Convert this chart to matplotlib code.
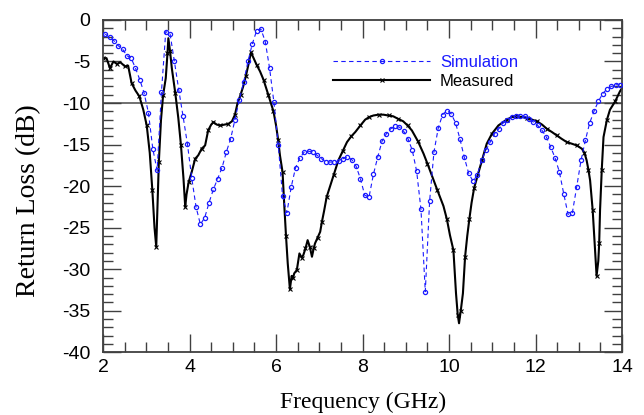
import matplotlib
matplotlib.use('Agg')
import matplotlib.pyplot as plt
import numpy as np

plt.rcParams['axes.unicode_minus'] = False

# simulated return loss, one sample every 0.1 GHz from 2.05 GHz
sim_freq = np.round(np.arange(2.05, 14.0, 0.1), 2)
sim_db = [
    -1.7, -2.1, -2.5, -3.1, -3.5, -4.3, -4.6, -5.8, -7.2, -8.8,
    -11.2, -15.5, -18.1, -8.7, -1.4, -1.7, -5.0, -8.4, -11.6, -14.9,
    -19.0, -22.5, -24.6, -23.8, -22.0, -20.4, -19.1, -17.8, -15.9, -14.3,
    -12.0, -9.6, -7.5, -5.0, -2.9, -1.3, -1.1, -2.6, -5.8, -9.9,
    -15.0, -21.2, -23.2, -20.1, -17.8, -16.6, -15.9, -15.8, -15.9, -16.3,
    -16.7, -17.1, -17.1, -17.1, -17.0, -16.7, -16.5, -16.8, -17.6, -19.1,
    -21.1, -21.3, -18.6, -16.5, -14.6, -13.7, -13.1, -12.8, -12.9, -13.4,
    -14.3, -15.7, -18.2, -22.8, -32.7, -21.8, -15.9, -13.0, -11.4, -10.9,
    -11.3, -12.4, -14.3, -16.5, -18.4, -19.4, -18.7, -16.9, -15.7, -14.7,
    -13.7, -13.1, -12.4, -12.0, -11.7, -11.6, -11.6, -11.6, -11.9, -12.3,
    -12.7, -13.3, -14.1, -15.3, -16.6, -18.3, -20.9, -23.4, -23.2, -20.1,
    -16.9, -14.5, -12.4, -11.0, -9.8, -8.9, -8.3, -8.0, -7.8, -7.8,
]

# measured return loss
meas_freq = [
    2.00, 2.08, 2.16, 2.24, 2.32, 2.40, 2.51, 2.58, 2.66, 2.75,
    2.84, 2.93, 3.01, 3.08, 3.14, 3.19, 3.23, 3.26, 3.29, 3.34,
    3.39, 3.45, 3.49, 3.51, 3.55, 3.59, 3.67, 3.74, 3.80, 3.86,
    3.90, 3.93, 3.98, 4.05, 4.13, 4.20, 4.28, 4.36, 4.43, 4.50,
    4.55, 4.63, 4.71, 4.80, 4.90, 4.98, 5.05, 5.11, 5.18, 5.24,
    5.30, 5.36, 5.42, 5.48, 5.55, 5.63, 5.71, 5.76, 5.82, 5.88,
    5.94, 6.00, 6.05, 6.09, 6.15, 6.19, 6.23, 6.27, 6.32, 6.36,
    6.39, 6.42, 6.48, 6.54, 6.59, 6.63, 6.68, 6.73, 6.78, 6.83,
    6.87, 6.90, 6.96, 7.02, 7.06, 7.11, 7.17, 7.25, 7.33, 7.44,
    7.54, 7.64, 7.74, 7.83, 7.95, 8.06, 8.15, 8.25, 8.37, 8.48,
    8.60, 8.71, 8.82, 8.94, 9.04, 9.14, 9.28, 9.41, 9.50, 9.60,
    9.73, 9.87, 9.95, 10.02, 10.10, 10.16, 10.20, 10.23, 10.27, 10.32,
    10.37, 10.42, 10.47, 10.52, 10.58, 10.65, 10.76, 10.87, 10.99, 11.14,
    11.33, 11.45, 11.57, 11.70, 11.80, 11.92, 12.03, 12.15, 12.26, 12.38,
    12.49, 12.60, 12.72, 12.84, 12.95, 13.07, 13.13, 13.18, 13.22, 13.26,
    13.32, 13.36, 13.41, 13.45, 13.47, 13.49, 13.53, 13.57, 13.65, 13.72,
    13.84, 13.95, 14.00,
]
meas_db = [
    -4.6, -4.6, -5.8, -5.0, -5.3, -5.1, -5.6, -5.5, -7.6, -8.5,
    -9.2, -10.8, -12.7, -16.0, -20.5, -25.0, -27.3, -22.0, -17.1, -12.0,
    -9.0, -7.0, -4.0, -2.2, -3.8, -5.8, -8.8, -11.8, -15.0, -19.1,
    -22.5, -21.0, -19.5, -18.3, -16.7, -16.3, -15.5, -15.1, -13.3, -12.6,
    -12.3, -12.6, -12.7, -12.6, -12.5, -12.2, -11.4, -10.0, -9.0, -8.0,
    -6.8, -5.4, -3.9, -4.6, -5.4, -6.2, -7.2, -8.0, -9.0, -10.0,
    -11.0, -12.7, -14.5, -16.3, -18.3, -22.3, -26.0, -29.3, -32.4, -30.8,
    -31.1, -30.5, -30.1, -28.1, -28.6, -28.3, -27.5, -26.5, -27.3, -28.5,
    -27.5, -26.9, -26.2, -25.5, -24.3, -23.0, -21.3, -20.0, -18.7, -16.9,
    -15.8, -14.7, -14.0, -13.5, -12.7, -12.0, -11.7, -11.5, -11.4, -11.4,
    -11.5, -11.6, -11.9, -12.2, -12.7, -13.3, -14.6, -16.1, -17.3, -18.7,
    -20.5, -22.4, -24.0, -25.9, -27.7, -32.9, -35.5, -36.5, -35.0, -32.9,
    -28.5, -26.0, -23.9, -22.0, -20.2, -18.9, -16.9, -14.9, -13.7, -12.7,
    -12.0, -11.7, -11.6, -11.7, -11.8, -12.0, -12.2, -12.6, -13.1, -13.5,
    -13.9, -14.3, -14.7, -14.9, -15.1, -15.5, -16.0, -16.9, -18.0, -19.3,
    -22.9, -26.5, -30.8, -29.0, -26.9, -22.9, -18.0, -14.1, -12.0, -10.8,
    -9.8, -8.6, -8.2,
]

fig = plt.figure(figsize=(6.44, 4.15), dpi=100)
ax = fig.add_axes([0.16, 0.151, 0.806, 0.801])

ax.axhline(-10, color='#707070', lw=1.4, zorder=1)

ax.plot(sim_freq, sim_db, color='#1a1aff', lw=0.8, ls=(0, (4, 3)),
        marker='o', ms=3.0, mfc='none', mec='#1a1aff', mew=0.9,
        label='Simulation', zorder=3)
ax.plot(meas_freq, meas_db, color='black', lw=1.5,
        marker='x', ms=3, mew=0.8, markevery=2,
        label='Measured', zorder=2)

ax.set_xlim(2, 14)
ax.set_ylim(-40, 0)
ax.set_xticks(np.arange(2, 15, 2))
ax.set_xticks(np.arange(2, 14.01, 0.5), minor=True)
ax.set_yticks(np.arange(-40, 1, 5))
ax.set_yticks(np.arange(-40, 0.1, 1), minor=True)

ax.tick_params(which='both', direction='in', top=True, right=True,
               color='#404040', width=1.0)
ax.tick_params(which='major', length=13)
ax.tick_params(which='minor', length=7)
ax.tick_params(axis='x', which='both', pad=5)
ax.tick_params(axis='y', which='both', pad=9)
for lab in ax.get_xticklabels() + ax.get_yticklabels():
    lab.set_fontfamily('Liberation Sans')
    lab.set_fontsize(14)

for sp in ax.spines.values():
    sp.set_linewidth(1.3)
    sp.set_color('#404040')

ax.set_xlabel('Frequency (GHz)', fontfamily='Liberation Serif', fontsize=17, labelpad=11)
ax.set_ylabel('Return Loss (dB)', fontfamily='Liberation Serif', fontsize=20)
ax.yaxis.set_label_coords(-0.12, 0.455)

leg = ax.legend(loc='upper left', bbox_to_anchor=(0.415, 0.94), frameon=False,
                handlelength=5.8, numpoints=1, handletextpad=0.6,
                labelspacing=0.25, prop={'family': 'Liberation Sans', 'size': 12})
leg.get_texts()[0].set_color('#1a1aff')
leg.get_texts()[1].set_color('black')

fig.savefig('out.png', dpi=100)
